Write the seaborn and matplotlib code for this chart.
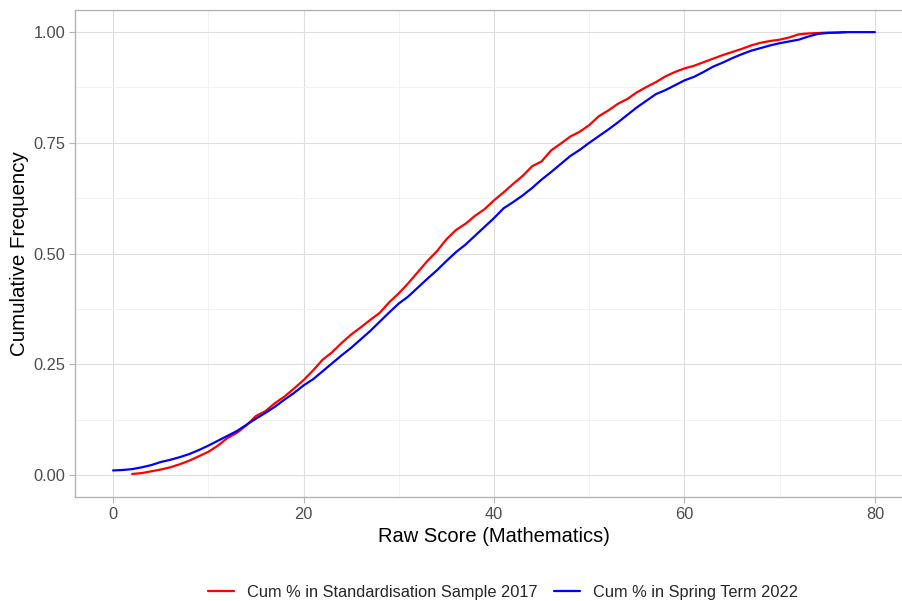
import numpy as np
import pandas as pd
import matplotlib
matplotlib.use("Agg")
import matplotlib.pyplot as plt
import seaborn as sns
from matplotlib.ticker import MultipleLocator
from matplotlib.lines import Line2D

red_label = "Cum % in Standardisation Sample 2017"
blue_label = "Cum % in Spring Term 2022"

scores_2017 = list(range(2, 78))
cum_2017 = [0.002, 0.004, 0.008, 0.012, 0.017, 0.024, 0.032, 0.042, 0.052, 0.066,
            0.083, 0.095, 0.112, 0.133, 0.144, 0.162, 0.177, 0.195, 0.214, 0.236,
            0.260, 0.277, 0.298, 0.317, 0.333, 0.350, 0.366, 0.390, 0.410, 0.433,
            0.458, 0.483, 0.505, 0.532, 0.553, 0.567, 0.585, 0.600, 0.620, 0.638,
            0.657, 0.675, 0.697, 0.708, 0.733, 0.748, 0.764, 0.775, 0.790, 0.810,
            0.823, 0.838, 0.849, 0.864, 0.876, 0.887, 0.900, 0.910, 0.918, 0.924,
            0.932, 0.940, 0.948, 0.955, 0.962, 0.970, 0.976, 0.980, 0.983, 0.988,
            0.995, 0.997, 0.998, 0.999, 0.999, 1.000]

scores_2022 = list(range(0, 81))
cum_2022 = [0.010, 0.011, 0.013, 0.017, 0.022, 0.029, 0.034, 0.040, 0.047, 0.056,
            0.066, 0.077, 0.088, 0.099, 0.113, 0.127, 0.140, 0.154, 0.170, 0.185,
            0.202, 0.216, 0.234, 0.252, 0.270, 0.287, 0.306, 0.325, 0.346, 0.367,
            0.387, 0.403, 0.423, 0.443, 0.462, 0.483, 0.503, 0.520, 0.540, 0.560,
            0.580, 0.602, 0.616, 0.631, 0.648, 0.667, 0.684, 0.702, 0.720, 0.734,
            0.750, 0.765, 0.780, 0.796, 0.813, 0.830, 0.845, 0.860, 0.869, 0.880,
            0.891, 0.899, 0.910, 0.922, 0.931, 0.941, 0.950, 0.958, 0.964, 0.970,
            0.975, 0.979, 0.983, 0.990, 0.996, 0.998, 0.999, 1.000, 1.000, 1.000,
            1.000]

x_ticks = [0, 20, 40, 60, 80]
y_ticks = [0.00, 0.25, 0.50, 0.75, 1.00]
y_tick_labels = ["0.00", "0.25", "0.50", "0.75", "1.00"]

df = pd.concat([
    pd.DataFrame({"score": scores_2017, "cum": cum_2017, "series": red_label}),
    pd.DataFrame({"score": scores_2022, "cum": cum_2022, "series": blue_label}),
], ignore_index=True)

sns.set_theme(style="white")
plt.rcParams["font.family"] = ["Liberation Sans", "DejaVu Sans"]

fig = plt.figure(figsize=(9.02, 6.01), dpi=100)
ax = fig.add_axes([75 / 902, (601 - 497) / 601, (913 - 75) / 902, (497 - 10) / 601])

sns.lineplot(data=df, x="score", y="cum", hue="series",
             palette={red_label: "#FF0000", blue_label: "#0000FF"},
             linewidth=1.6, ax=ax, legend=False, zorder=3)

ax.set_xlim(-4, 84)
ax.set_ylim(-0.05, 1.05)
ax.set_xticks(x_ticks)
ax.set_yticks(y_ticks)
ax.set_yticklabels(y_tick_labels)
ax.xaxis.set_minor_locator(MultipleLocator(10))
ax.yaxis.set_minor_locator(MultipleLocator(0.125))
ax.grid(True, which="major", color="#DEDEDE", linewidth=0.8, zorder=0)
ax.grid(True, which="minor", color="#F0F0F0", linewidth=0.6, zorder=0)
ax.set_axisbelow(True)
for s in ax.spines.values():
    s.set_color("#B3B3B3")
    s.set_linewidth(1.0)
ax.tick_params(axis="both", which="major", length=4, width=0.8, color="#B3B3B3",
               labelsize=11.8, labelcolor="#4D4D4D", pad=3, bottom=True, left=True)
ax.tick_params(axis="both", which="minor", length=0)

ax.set_xlabel("Raw Score (Mathematics)", fontsize=14.5, color="black", labelpad=4)
ax.set_ylabel("Cumulative Frequency", fontsize=14.8, color="black", labelpad=3)

handles = [Line2D([], [], color="#FF0000", linewidth=1.6),
           Line2D([], [], color="#0000FF", linewidth=1.6)]
fig.legend(handles, [red_label, blue_label], loc="center", ncol=2,
           bbox_to_anchor=(503 / 902, 1 - 592 / 601), frameon=False,
           fontsize=11.8, handlelength=1.6, columnspacing=1.0, handletextpad=0.8)

fig.savefig("out.png", dpi=100)
